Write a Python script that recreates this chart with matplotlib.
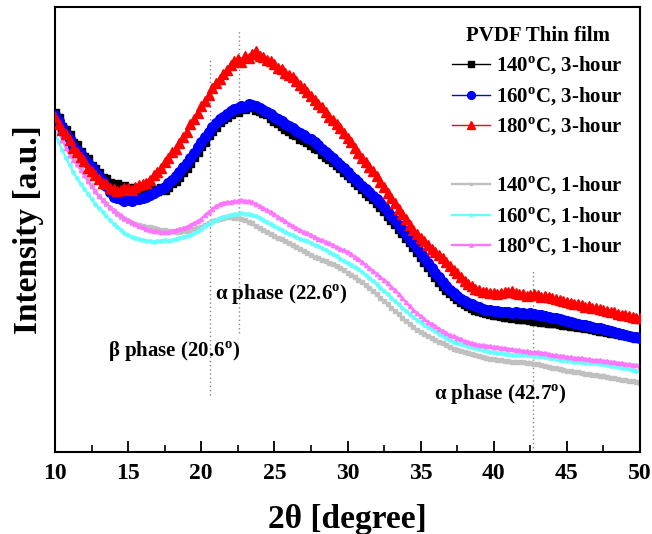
import numpy as np
import matplotlib
matplotlib.use("Agg")
import matplotlib.pyplot as plt
from matplotlib.lines import Line2D
from matplotlib.ticker import MultipleLocator

plt.rcParams['font.family'] = ['Liberation Serif', 'DejaVu Serif']
plt.rcParams['font.weight'] = 'bold'
plt.rcParams['mathtext.fontset'] = 'custom'
plt.rcParams['mathtext.rm'] = 'Liberation Serif:bold'
plt.rcParams['mathtext.bf'] = 'Liberation Serif:bold'

# 2-theta grid (degrees), 10 to 50 in 0.25 steps
two_theta = np.arange(10, 50.001, 0.25)

# Intensities (arbitrary units)
i140_3h = [347, 342, 333, 330, 325, 317, 315, 308, 303, 301, 294, 291, 287, 282, 281, 277, 275, 276, 273, 274,
           272, 270, 272, 269, 270, 271, 268, 270, 269, 272, 270, 273, 277, 279, 283, 288, 292, 297, 303, 308,
           314, 318, 325, 329, 333, 338, 341, 343, 346, 349, 348, 352, 351, 353, 353, 350, 349, 347, 346, 342,
           339, 337, 334, 331, 329, 326, 325, 321, 320, 318, 315, 312, 311, 306, 303, 301, 298, 295, 292, 288,
           285, 282, 278, 275, 271, 267, 264, 261, 257, 253, 249, 244, 240, 236, 231, 227, 222, 218, 213, 208,
           203, 198, 193, 188, 183, 178, 174, 170, 167, 164, 161, 158, 156, 154, 152, 150, 149, 148, 147, 146,
           145, 145, 144, 143, 143, 142, 143, 141, 141, 141, 140, 139, 139, 138, 138, 137, 137, 137, 136, 135,
           135, 134, 134, 133, 133, 132, 132, 131, 130, 129, 129, 128, 127, 127, 126, 125, 125, 124, 123, 122,
           122]
i160_3h = [345, 339, 333, 326, 321, 314, 310, 306, 301, 297, 293, 288, 284, 279, 274, 268, 263, 262, 261, 259,
           260, 259, 261, 261, 262, 263, 265, 267, 269, 271, 273, 277, 280, 284, 288, 293, 297, 302, 307, 313,
           318, 323, 328, 333, 337, 341, 343, 346, 349, 351, 352, 354, 353, 356, 355, 354, 352, 350, 348, 346,
           343, 341, 339, 336, 334, 332, 329, 327, 325, 322, 321, 318, 315, 311, 308, 305, 302, 298, 295, 292,
           288, 284, 281, 278, 274, 271, 268, 264, 261, 257, 253, 248, 244, 240, 235, 231, 226, 221, 217, 212,
           207, 202, 197, 192, 187, 183, 178, 174, 170, 167, 164, 161, 159, 157, 156, 154, 153, 151, 150, 150,
           149, 149, 148, 148, 148, 147, 148, 147, 147, 146, 147, 146, 145, 145, 144, 143, 142, 142, 141, 140,
           139, 138, 137, 136, 135, 135, 134, 133, 132, 132, 131, 130, 129, 128, 127, 126, 125, 124, 123, 123,
           122]
i180_3h = [343, 336, 330, 326, 320, 312, 308, 303, 299, 292, 289, 285, 281, 277, 276, 272, 271, 269, 270, 272,
           272, 270, 273, 275, 276, 277, 280, 285, 288, 292, 298, 302, 308, 311, 317, 323, 328, 336, 341, 347,
           354, 359, 365, 372, 377, 381, 386, 390, 395, 399, 401, 398, 404, 402, 406, 409, 404, 403, 400, 399,
           396, 392, 391, 387, 385, 383, 379, 375, 372, 368, 364, 360, 356, 353, 348, 343, 340, 336, 332, 327,
           322, 318, 312, 307, 302, 298, 293, 289, 284, 278, 273, 267, 262, 257, 251, 246, 241, 235, 230, 226,
           222, 219, 215, 211, 208, 205, 202, 198, 194, 190, 187, 183, 179, 176, 174, 171, 170, 168, 168, 167,
           167, 166, 167, 168, 168, 169, 167, 166, 166, 164, 165, 166, 165, 163, 164, 163, 162, 161, 160, 159,
           158, 157, 156, 156, 155, 153, 154, 152, 152, 151, 150, 149, 148, 148, 146, 145, 145, 144, 143, 142,
           142]
i140_1h = [338, 333, 327, 321, 315, 307, 300, 294, 288, 281, 275, 269, 264, 260, 256, 252, 249, 246, 243, 241,
           239, 237, 236, 235, 234, 233, 233, 232, 231, 230, 230, 229, 229, 228, 228, 229, 229, 230, 231, 232,
           233, 235, 237, 239, 240, 241, 242, 243, 243, 242, 242, 241, 240, 238, 237, 234, 232, 230, 228, 226,
           224, 222, 221, 219, 217, 215, 213, 211, 209, 207, 205, 203, 202, 200, 199, 197, 196, 194, 192, 190,
           187, 185, 183, 180, 178, 175, 172, 169, 166, 162, 159, 156, 152, 149, 146, 142, 139, 136, 133, 130,
           128, 126, 124, 122, 120, 118, 117, 115, 113, 111, 110, 109, 108, 107, 106, 105, 104, 103, 102, 101,
           101, 100, 100, 99, 99, 98, 98, 98, 98, 97, 97, 96, 96, 95, 94, 93, 92, 92, 91, 90,
           89, 89, 88, 88, 87, 86, 86, 85, 85, 84, 84, 83, 82, 82, 81, 80, 80, 79, 79, 78,
           77]
i160_1h = [327, 318, 310, 302, 295, 288, 282, 276, 271, 266, 261, 256, 252, 248, 244, 240, 236, 233, 230, 227,
           225, 223, 222, 221, 220, 219, 219, 218, 219, 219, 220, 219, 220, 221, 222, 223, 224, 225, 227, 229,
           231, 234, 236, 238, 240, 242, 243, 244, 245, 246, 246, 247, 246, 246, 245, 244, 242, 240, 238, 236,
           234, 232, 230, 228, 226, 225, 223, 221, 220, 219, 217, 215, 214, 212, 210, 208, 206, 204, 201, 199,
           197, 195, 193, 191, 188, 185, 182, 179, 176, 172, 169, 166, 162, 159, 156, 152, 149, 146, 143, 140,
           138, 135, 133, 131, 129, 126, 124, 122, 120, 118, 117, 116, 115, 114, 113, 112, 111, 110, 109, 108,
           108, 107, 107, 106, 106, 105, 105, 105, 105, 105, 105, 104, 104, 104, 103, 102, 102, 101, 100, 100,
           99, 99, 98, 98, 98, 97, 97, 97, 97, 96, 96, 95, 94, 94, 93, 92, 92, 91, 90, 89,
           89]
i180_1h = [337, 328, 320, 312, 305, 300, 296, 290, 285, 279, 274, 269, 264, 260, 257, 253, 250, 247, 245, 242,
           240, 238, 236, 234, 233, 231, 230, 229, 229, 228, 228, 228, 229, 230, 231, 232, 233, 235, 237, 239,
           241, 245, 248, 251, 254, 256, 257, 258, 258, 259, 259, 260, 259, 259, 258, 256, 254, 252, 250, 248,
           246, 243, 241, 239, 236, 234, 232, 230, 228, 227, 225, 223, 221, 220, 218, 217, 215, 213, 211, 210,
           208, 206, 203, 201, 198, 195, 192, 189, 186, 183, 180, 177, 173, 170, 166, 162, 158, 154, 150, 147,
           144, 141, 138, 136, 134, 131, 129, 127, 125, 124, 122, 121, 119, 118, 117, 116, 115, 115, 114, 114,
           113, 113, 112, 112, 111, 111, 110, 110, 109, 109, 108, 108, 108, 107, 107, 106, 105, 105, 104, 104,
           103, 103, 102, 102, 102, 101, 101, 100, 100, 100, 99, 99, 98, 98, 97, 97, 96, 96, 95, 95,
           94]

series_3h = [("140", i140_3h, 'black', 's', 6),
             ("160", i160_3h, '#0000ff', 'o', 7),
             ("180", i180_3h, '#ff0000', '^', 7)]
series_1h = [("140", i140_1h, '#c0c0c0', 's', 2.5),
             ("160", i160_1h, '#66ffff', 'o', 2.5),
             ("180", i180_1h, '#ff77ff', '^', 3)]

# phase markers: (position, ymin, ymax, label, label x, label y)
phases = [(20.6, 65, 402, r"β phase (20.6$^{\mathbf{o}}$)", 13.6, 108),
          (22.6, 127, 430, r"α phase (22.6$^{\mathbf{o}}$)", 20.95, 165),
          (42.7, 8, 190, r"α phase (42.7$^{\mathbf{o}}$)", 35.9, 65)]

fig = plt.figure(figsize=(6.52, 5.34), dpi=100)
ax = fig.add_axes([55/652, 1-452/534, 585/652, 445/534])

for pos, y0, y1, lab, lx, ly in phases:
    ax.plot([pos, pos], [y0, y1], color='#888888', lw=1, ls=(0, (1, 2)), zorder=1)
    ax.text(lx, ly, lab, fontsize=15, fontweight='bold', ha='left', va='center')

handles = []
labels = []
for t, vals, c, m, ms in series_3h:
    h, = ax.plot(two_theta, vals, color=c, marker=m, ms=ms, lw=1, ls='-', zorder=3)
    handles.append(h)
    labels.append(t + r"$^{\mathbf{o}}$C, 3-hour")
handles.append(Line2D([], [], color='none'))
labels.append(" ")
for t, vals, c, m, ms in series_1h:
    h, = ax.plot(two_theta, vals, color=c, marker=m, ms=ms, lw=1.7, ls='-', zorder=2)
    handles.append(h)
    labels.append(t + r"$^{\mathbf{o}}$C, 1-hour")

leg = ax.legend(handles, labels, title="PVDF Thin film", loc='upper right',
                bbox_to_anchor=(0.985, 0.975), frameon=False, fontsize=15,
                handlelength=1.8, handletextpad=0.3, labelspacing=0.4,
                borderaxespad=0, markerscale=0.8)
leg.get_title().set_fontsize(15)
leg.get_title().set_fontweight('bold')

ax.set_xlim(10, 50)
ax.set_ylim(8, 453)
ax.xaxis.set_major_locator(MultipleLocator(5))
ax.xaxis.set_minor_locator(MultipleLocator(2.5))
ax.tick_params(axis='x', which='major', direction='in', length=8, width=1.3,
               labelsize=17, pad=8, top=False)
ax.tick_params(axis='x', which='minor', direction='in', length=5, width=1.2, top=False)
ax.set_yticks([])
for lbl in ax.get_xticklabels():
    lbl.set_fontweight('bold')
for s in ax.spines.values():
    s.set_linewidth(1.5)

ax.set_xlabel("2θ [degree]", fontsize=24, fontweight='bold', labelpad=14)
ax.set_ylabel("Intensity [a.u.]", fontsize=24, fontweight='bold', labelpad=8)

fig.savefig("out.png", dpi=100)
